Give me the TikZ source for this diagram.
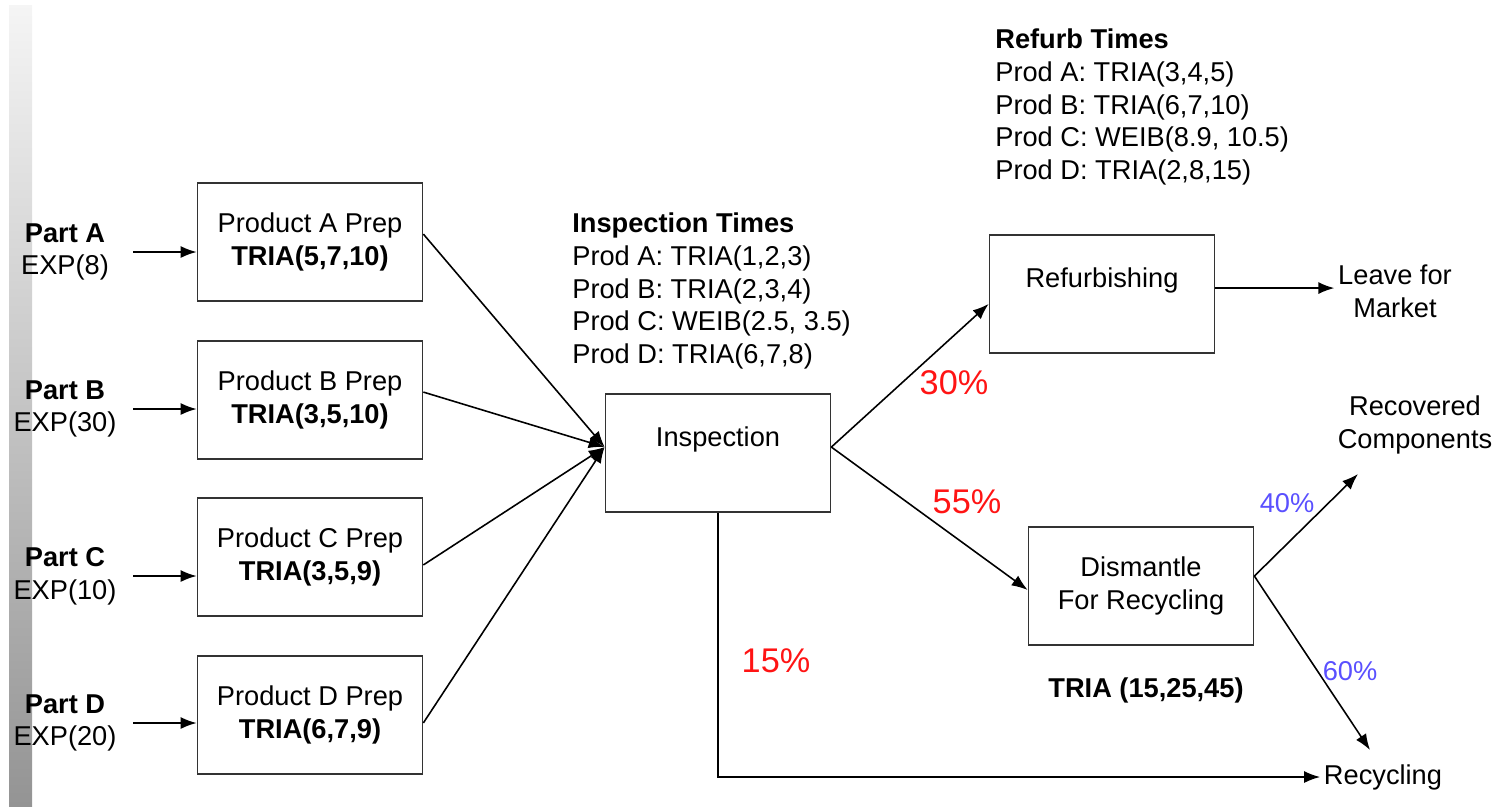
\documentclass[tikz,border=0pt]{standalone}
\usepackage{fontspec}
\setmainfont{Liberation Sans}
\usetikzlibrary{arrows.meta}

\definecolor{splitred}{RGB}{255,20,20}
\definecolor{splitblue}{RGB}{90,80,255}

\tikzset{
  stagebox/.style={draw=black!80, line width=1pt, minimum width=4.5cm,
    minimum height=2.36cm, align=center},
  arrival/.style={align=center, minimum width=2.72cm, inner sep=1pt},
  outlet/.style={align=center, inner sep=2pt},
  timelist/.style={align=left, anchor=west, inner sep=0pt},
  flow/.style={->, line width=0.9pt},
  bigshare/.style={splitred, font=\fontsize{19.5}{22}\selectfont},
  smallshare/.style={splitblue},
}

\begin{document}
\begin{tikzpicture}[x=0.02cm, y=-0.02cm, >={Latex[length=3.2mm,width=2.4mm]},
  every node/.style={font=\fontsize{15.5}{18.6}\selectfont}]
  \useasboundingbox (0,0) rectangle (1498,806);
  \shade[top color=black!4, bottom color=black!42] (9,5) rectangle (32,806);

  % arrivals
  \node[arrival] (partA) at (65,252) {\textbf{Part A}\\EXP(8)};
  \node[arrival] (partB) at (65,409) {\textbf{Part B}\\EXP(30)};
  \node[arrival] (partC) at (65,576) {\textbf{Part C}\\EXP(10)};
  \node[arrival] (partD) at (65,723) {\textbf{Part D}\\EXP(20)};

  % prep stations
  \node[stagebox] (prepA) at (310,242) {Product A Prep\\\textbf{TRIA(5,7,10)}};
  \node[stagebox] (prepB) at (310,400) {Product B Prep\\\textbf{TRIA(3,5,10)}};
  \node[stagebox] (prepC) at (310,557) {Product C Prep\\\textbf{TRIA(3,5,9)}};
  \node[stagebox] (prepD) at (310,715) {Product D Prep\\\textbf{TRIA(6,7,9)}};

  \foreach \p in {A,B,C,D}
    \draw[flow] (part\p.east) -- (part\p.east -| prep\p.west);

  % inspection and what follows it
  \node[stagebox] (insp) at (718,453) {Inspection\\\mbox{}};
  \node[stagebox] (refurb) at (1102,294) {Refurbishing\\\mbox{}};
  \node[stagebox] (dism) at (1141,586) {Dismantle\\For Recycling};

  \node[timelist] (inspTimes) at (572,291) {\textbf{Inspection Times}\\
    Prod A: TRIA(1,2,3)\\Prod B: TRIA(2,3,4)\\
    Prod C: WEIB(2.5, 3.5)\\Prod D: TRIA(6,7,8)};
  \node[timelist] (refurbTimes) at (995,107) {\textbf{Refurb Times}\\
    Prod A: TRIA(3,4,5)\\Prod B: TRIA(6,7,10)\\
    Prod C: WEIB(8.9, 10.5)\\Prod D: TRIA(2,8,15)};
  \node (dismTime) at (1146,690) {\textbf{TRIA (15,25,45)}};

  \draw[flow] (prepA.4) -- (insp.177);
  \draw[flow] (prepB.4) -- (insp.177);
  \draw[flow] (prepC.-4) -- (insp.177);
  \draw[flow] (prepD.-4) -- (insp.177);

  % exits
  \node[outlet] (market) at (1395,291) {Leave for\\Market};
  \node[outlet] (recov) at (1415,425) {Recovered\\Components};
  \node[outlet] (recyc) at (1383,777) {Recycling};
  \coordinate (recovIn) at (1358,474);
  \coordinate (recycIn) at (1370,750);

  \draw[flow] (insp.3) -- (refurb.185);
  \draw[flow] (insp.3) -- (dism.182);
  \draw[flow] (insp.south) |- (recyc.west);
  \draw[flow] (refurb.3) -- (refurb.3 -| market.west);
  \draw[flow] (dism.5) -- (recovIn);
  \draw[flow] (dism.5) -- (recycIn);

  % branch shares
  \node[bigshare] (shareRefurb) at (954,383) {30\%};
  \node[bigshare] (shareDism) at (967,502) {55\%};
  \node[bigshare] (shareScrap) at (776,661) {15\%};
  \node[smallshare] (shareRecov) at (1287,503) {40\%};
  \node[smallshare] (shareRecyc) at (1350,671) {60\%};
\end{tikzpicture}
\end{document}
